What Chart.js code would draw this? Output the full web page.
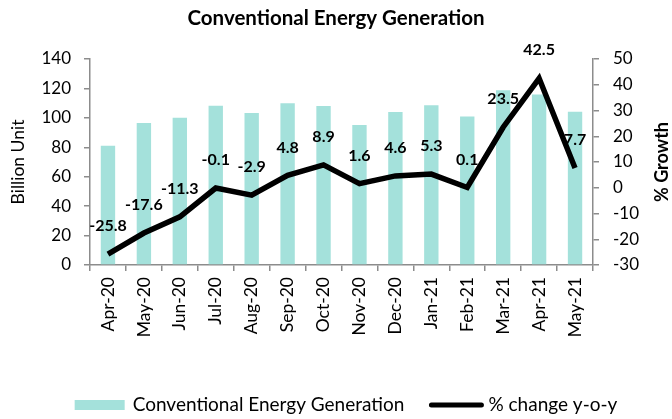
<!DOCTYPE html>
<html>
<head>
<meta charset="utf-8">
<script src="https://cdn.jsdelivr.net/npm/chart.js@4"></script>
<style>
  body { margin: 0; background: #fff; }
  #wrap { width: 672px; height: 419px; }
</style>
</head>
<body>
<div id="wrap"><canvas id="energyChart" width="672" height="419"></canvas></div>
<script>
// Monthly categories
const months = ['Apr-20', 'May-20', 'Jun-20', 'Jul-20', 'Aug-20', 'Sep-20', 'Oct-20',
                'Nov-20', 'Dec-20', 'Jan-21', 'Feb-21', 'Mar-21', 'Apr-21', 'May-21'];
// Conventional generation, billion units
const generation = [81, 96.5, 100, 108.3, 103.3, 110, 108, 95.2, 104, 108.5, 101, 118.7, 115.8, 104.2];
// % change y-o-y (data labels)
const growth = [-25.8, -17.6, -11.3, -0.1, -2.9, 4.8, 8.9, 1.6, 4.6, 5.3, 0.1, 23.5, 42.5, 7.7];

const FONT = 'Lato, Carlito, Calibri, sans-serif';
const AXIS_GREY = '#8c8c8c';
const BAR_COLOR = '#a4e1db';

// draws the values above the growth line
const lineLabels = {
    id: 'lineLabels',
    afterDatasetsDraw(chart) {
        const ctx = chart.ctx;
        const meta = chart.getDatasetMeta(1);
        ctx.save();
        ctx.font = 'bold 16px ' + FONT;
        ctx.fillStyle = '#000';
        ctx.textAlign = 'center';
        ctx.textBaseline = 'middle';
        meta.data.forEach(function(pt, i) {
            ctx.fillText(growth[i].toFixed(1), pt.x, pt.y - 28);
        });
        ctx.restore();
    }
};

// right axis title reads bottom-to-top like the left one, plus the legend row
const extras = {
    id: 'extras',
    afterDraw(chart) {
        const ctx = chart.ctx;
        const area = chart.chartArea;
        ctx.save();
        ctx.translate(662, (area.top + area.bottom) / 2);
        ctx.rotate(-Math.PI / 2);
        ctx.font = 'bold 18px ' + FONT;
        ctx.fillStyle = '#000';
        ctx.textAlign = 'center';
        ctx.textBaseline = 'middle';
        ctx.fillText('% Growth', 0, 0);
        ctx.restore();

        // legend
        const names = chart.data.datasets.map(d => d.label);
        ctx.save();
        ctx.font = '19px ' + FONT;
        ctx.fillStyle = '#000';
        ctx.textBaseline = 'middle';
        const w1 = ctx.measureText(names[0]).width;
        const w2 = ctx.measureText(names[1]).width;
        const total = 50 + 8 + w1 + 24 + 56 + 4 + w2;
        let x = 346 - total / 2;
        const y = 405;
        ctx.fillStyle = BAR_COLOR;
        ctx.fillRect(x, y - 5, 50, 10);
        x += 58;
        ctx.fillStyle = '#000';
        ctx.fillText(names[0], x, y);
        x += w1 + 24;
        ctx.strokeStyle = '#000';
        ctx.lineWidth = 5;
        ctx.lineCap = 'round';
        ctx.beginPath();
        ctx.moveTo(x + 3, y);
        ctx.lineTo(x + 53, y);
        ctx.stroke();
        x += 60;
        ctx.fillText(names[1], x, y);
        ctx.restore();
    }
};

const ctx = document.getElementById('energyChart').getContext('2d');

new Chart(ctx, {
    data: {
        labels: months,
        datasets: [
            {
                type: 'bar',
                label: 'Conventional Energy Generation',
                data: generation,
                backgroundColor: BAR_COLOR,
                barPercentage: 0.4,
                categoryPercentage: 1,
                yAxisID: 'y',
                order: 2
            },
            {
                type: 'line',
                label: '% change y-o-y',
                data: growth,
                borderColor: '#000',
                backgroundColor: '#000',
                borderWidth: 5.5,
                pointRadius: 0,
                tension: 0,
                yAxisID: 'y1',
                order: 1
            }
        ]
    },
    options: {
        responsive: false,
        animation: false,
        layout: { padding: 0 },
        scales: {
            x: {
                offset: true,
                grid: { offset: true, drawOnChartArea: false, drawTicks: true, tickLength: 6, color: AXIS_GREY, lineWidth: 1.5 },
                border: { color: AXIS_GREY, width: 1.5 },
                ticks: { color: '#000', font: { family: FONT, size: 17.5 }, minRotation: 90, maxRotation: 90, padding: 6, autoSkip: false },
                afterFit: function(scale) { scale.height = 154; }
            },
            y: {
                position: 'left',
                min: 0,
                max: 140,
                ticks: { stepSize: 20, color: '#000', font: { family: FONT, size: 17 }, padding: 13 },
                grid: { drawOnChartArea: false, tickLength: 6, color: AXIS_GREY, lineWidth: 1.5 },
                border: { color: AXIS_GREY, width: 1.5 },
                title: { display: true, text: 'Billion Unit', color: '#000', font: { family: FONT, size: 17.5 }, padding: { top: 8, bottom: 0 } },
                afterFit: function(scale) { scale.width = 90; }
            },
            y1: {
                position: 'right',
                min: -30,
                max: 50,
                ticks: { stepSize: 10, color: '#000', font: { family: FONT, size: 17 }, padding: 14 },
                grid: { drawOnChartArea: false, tickLength: 6, color: AXIS_GREY, lineWidth: 1.5 },
                border: { color: AXIS_GREY, width: 1.5 },
                afterFit: function(scale) { scale.width = 79; }
            }
        },
        plugins: {
            title: {
                display: true,
                text: 'Conventional Energy Generation',
                color: '#000',
                font: { family: FONT, size: 20.5, weight: 'bold' },
                padding: { top: 6, bottom: 28.4 }
            },
            tooltip: { enabled: false },
            legend: { display: false }
        }
    },
    plugins: [lineLabels, extras]
});
</script>
</body>
</html>
